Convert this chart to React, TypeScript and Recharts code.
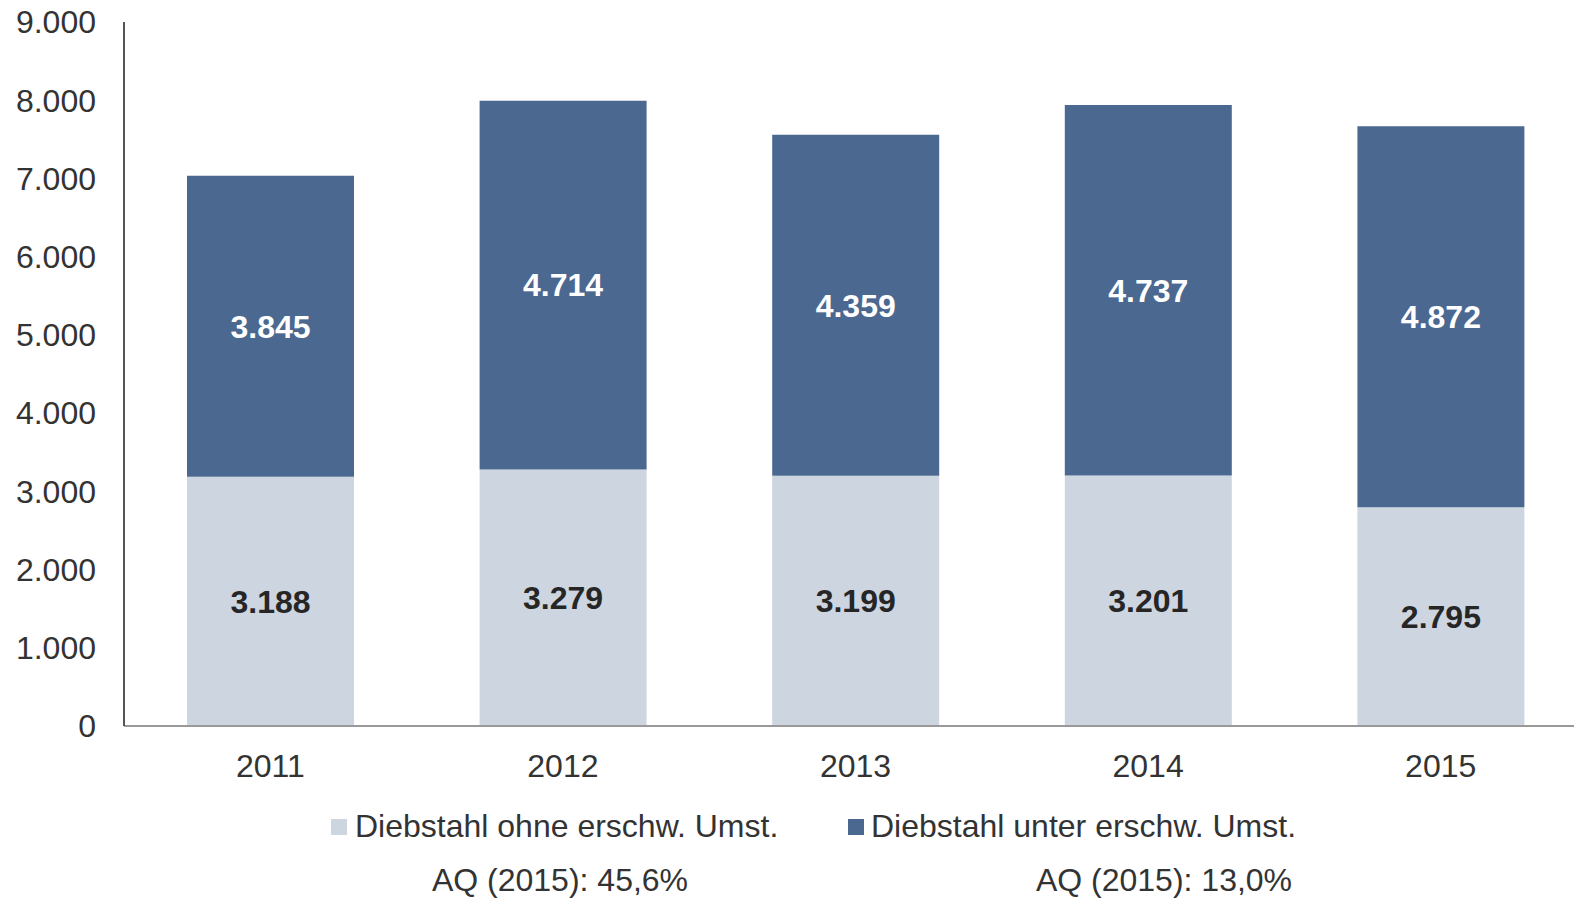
import { BarChart, Bar, XAxis, YAxis, LabelList } from 'recharts';

const years = ['2011', '2012', '2013', '2014', '2015'];
const ohneErschw = [3188, 3279, 3199, 3201, 2795];
const unterErschw = [3845, 4714, 4359, 4737, 4872];
const yTicks = [0, 1000, 2000, 3000, 4000, 5000, 6000, 7000, 8000, 9000];
const aqNotes = ['AQ (2015): 45,6%', 'AQ (2015): 13,0%'];

const LIGHT = '#cdd5e0';
const DARK = '#4b6891';
const FONT = '"Liberation Sans", Arial, sans-serif';

const data = years.map((year, i) => ({
  year,
  ohne: ohneErschw[i],
  unter: unterErschw[i],
}));

const fmt = (v: number) => v.toLocaleString('de-DE');

export default function App() {
  return (
    <div
      style={{
        position: 'absolute',
        left: 0,
        top: 0,
        width: 1574,
        height: 899,
        overflow: 'hidden',
        background: '#fff',
        fontFamily: FONT,
      }}
    >
      <BarChart
        width={1587}
        height={899}
        data={data}
        margin={{ top: 22, right: 0, bottom: 0, left: 0 }}
        barCategoryGap={0}
      >
        <XAxis
          dataKey="year"
          height={173}
          tickLine={false}
          tickSize={0}
          tickMargin={28}
          axisLine={{ stroke: '#999', strokeWidth: 2 }}
          tick={{ fill: '#333', fontSize: 32, fontFamily: FONT }}
        />
        <YAxis
          width={124}
          domain={[0, 9000]}
          ticks={yTicks}
          interval={0}
          tickLine={false}
          tickSize={0}
          tickMargin={28}
          axisLine={{ stroke: '#555', strokeWidth: 2 }}
          tickFormatter={fmt}
          tick={{ fill: '#333', fontSize: 32, fontFamily: FONT }}
        />
        <Bar dataKey="ohne" stackId="a" fill={LIGHT} barSize={167} isAnimationActive={false}>
          <LabelList
            dataKey="ohne"
            position="center"
            formatter={(v: number) => fmt(v)}
            style={{ fill: '#262626', fontSize: 32, fontWeight: 'bold', fontFamily: FONT }}
          />
        </Bar>
        <Bar dataKey="unter" stackId="a" fill={DARK} barSize={167} isAnimationActive={false}>
          <LabelList
            dataKey="unter"
            position="center"
            formatter={(v: number) => fmt(v)}
            style={{ fill: '#fff', fontSize: 32, fontWeight: 'bold', fontFamily: FONT }}
          />
        </Bar>
      </BarChart>

      {/* legend */}
      <div style={{ position: 'absolute', left: 331, top: 808, display: 'flex', alignItems: 'center', fontSize: 32, color: '#333', whiteSpace: 'nowrap' }}>
        <span style={{ width: 16, height: 16, background: LIGHT, marginRight: 8 }} />
        <span>Diebstahl ohne erschw. Umst.</span>
      </div>
      <div style={{ position: 'absolute', left: 848, top: 808, display: 'flex', alignItems: 'center', fontSize: 32, color: '#333', whiteSpace: 'nowrap' }}>
        <span style={{ width: 16, height: 16, background: DARK, marginRight: 7 }} />
        <span>Diebstahl unter erschw. Umst.</span>
      </div>

      {/* notes under the legend */}
      <div style={{ position: 'absolute', left: 560, top: 862, transform: 'translateX(-50%)', fontSize: 32, color: '#333', whiteSpace: 'nowrap' }}>
        {aqNotes[0]}
      </div>
      <div style={{ position: 'absolute', left: 1164, top: 862, transform: 'translateX(-50%)', fontSize: 32, color: '#333', whiteSpace: 'nowrap' }}>
        {aqNotes[1]}
      </div>
    </div>
  );
}
